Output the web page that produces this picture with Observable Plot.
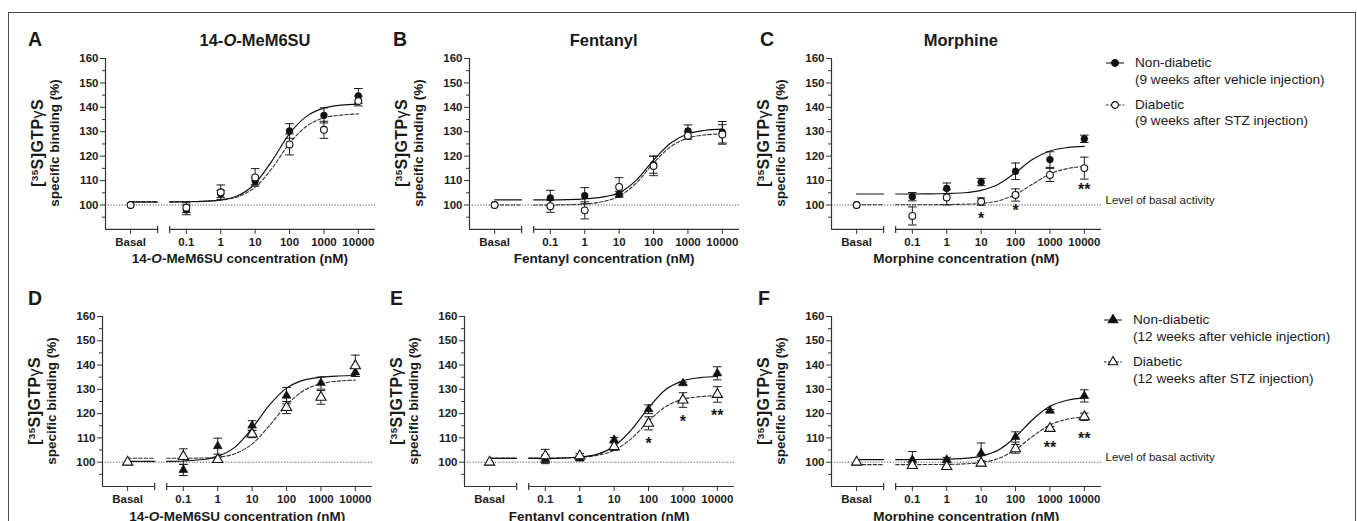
<!DOCTYPE html>
<html><head><meta charset="utf-8">
<script src="https://cdn.jsdelivr.net/npm/d3@7"></script>
<script src="https://cdn.jsdelivr.net/npm/@observablehq/plot@0.6"></script>
<style>
body{margin:0;background:#fff;}
#fig{position:relative;width:1357px;height:521px;overflow:hidden;font-family:'Liberation Sans',Arial,sans-serif;color:#1a1a1a;background:#fff;}
.abs{position:absolute;white-space:nowrap;line-height:1;}
.letter{font-size:19.5px;font-weight:bold;}
.ptitle{font-size:16.5px;font-weight:bold;}
.xtitle{font-size:13.5px;font-weight:bold;}
.ylab1{font-size:16px;font-weight:bold;letter-spacing:0.4px;}
.ylab2{font-size:13.5px;font-weight:bold;}
.ylab1 sup{font-size:0.62em;line-height:0;vertical-align:0.55em;}
.leg{font-size:13.6px;}
#border{position:absolute;left:8px;top:12px;width:1348px;height:560px;border:1.5px solid #4a4a4a;box-sizing:border-box;}
</style></head>
<body>
<div id="fig"><div id="border"></div></div>
<script>
// ---------- shared categories / ticks ----------
const concentrations = ["Basal", 0.1, 1, 10, 100, 1000, 10000];
const tickLabels = ["Basal", "0.1", "1", "10", "100", "1000", "10000"];
const yMajorTicks = [100, 110, 120, 130, 140, 150, 160];
const yMinorTicks = [95, 105, 115, 125, 135, 145, 155];
const basalLevel = 100;
// log10 concentration where fitted curves were read
const curveLog = [-1.485, -1, -0.5, 0, 0.5, 1, 1.5, 2, 2.5, 3, 3.5, 4];

// ---------- Panel A: 14-O-MeM6SU, 9 weeks ----------
const aNonMean = [100, 98.0, 104.5, 109.8, 130.3, 136.7, 144.7];
const aNonErr  = [0, 2.0, 1.5, 1.5, 3.0, 3.1, 3.0];
const aDiaMean = [100, 98.9, 105.2, 111.3, 124.8, 130.8, 142.6];
const aDiaErr  = [0, 2.0, 3.0, 3.6, 4.3, 3.5, 2.0];
const aNonCurve = [101.2, 101.3, 101.5, 102.1, 103.8, 108.8, 118.3, 129.2, 136.4, 139.7, 140.9, 141.3];
const aDiaCurve = [101.4, 101.4, 101.5, 102.0, 103.4, 107.3, 115.2, 125.3, 132.3, 135.7, 136.8, 137.3];
const aStars = [];

// ---------- Panel B: Fentanyl, 9 weeks ----------
const bNonMean = [100, 102.9, 103.8, 104.4, 116.5, 130.3, 129.8];
const bNonErr  = [0, 3.1, 3.3, 1.2, 3.5, 2.5, 4.4];
const bDiaMean = [100, 99.5, 97.8, 107.4, 116.0, 128.4, 128.9];
const bDiaErr  = [0, 2.5, 3.5, 3.8, 4.0, 1.5, 4.0];
const bNonCurve = [102.1, 102.1, 102.2, 102.5, 103.2, 105.0, 110.2, 118.4, 125.4, 129.2, 130.6, 131.1];
const bDiaCurve = [100.0, 100.0, 100.1, 100.4, 101.3, 103.6, 109.0, 117.2, 123.9, 127.4, 128.7, 129.1];
const bStars = [];

// ---------- Panel C: Morphine, 9 weeks ----------
const cNonMean = [100, 103.4, 106.8, 109.4, 113.8, 118.6, 127.1];
const cNonErr  = [0, 1.7, 2.2, 1.5, 3.4, 3.2, 1.5];
const cDiaMean = [100, 95.5, 103.1, 101.4, 104.1, 112.3, 115.1];
const cDiaErr  = [0, 3.7, 3.1, 1.5, 2.5, 2.7, 4.5];
const cNonCurve = [104.5, 104.5, 104.55, 104.7, 105.0, 106.0, 108.5, 113.3, 118.7, 122.1, 123.5, 124.0];
const cDiaCurve = [100.1, 100.1, 100.1, 100.2, 100.3, 100.65, 101.7, 104.3, 108.6, 112.7, 114.9, 115.8];
const cStars = [{conc: 10, y: 95.9, label: "*"}, {conc: 100, y: 98.9, label: "*"}, {conc: 10000, y: 107.8, label: "**"}];

// ---------- Panel D: 14-O-MeM6SU, 12 weeks ----------
const dNonMean = [100, 96.8, 106.6, 115.1, 127.4, 132.6, 137.0];
const dNonErr  = [0, 2.3, 3.3, 2.0, 3.4, 2.5, 1.7];
const dDiaMean = [100, 102.3, 101.1, 111.6, 122.5, 126.7, 139.7];
const dDiaErr  = [0, 3.2, 1.0, 1.5, 2.5, 2.8, 4.4];
const dNonCurve = [100.3, 100.5, 101.0, 102.4, 106.2, 114.0, 123.5, 130.5, 133.8, 135.0, 135.5, 135.7];
const dDiaCurve = [101.6, 101.6, 101.7, 102.1, 103.5, 107.5, 115.0, 123.5, 129.5, 132.3, 133.4, 133.8];
const dStars = [];

// ---------- Panel E: Fentanyl, 12 weeks ----------
const eNonMean = [100, 101.2, 101.6, 109.2, 121.8, 132.5, 136.6];
const eNonErr  = [0, 1.8, 1.0, 1.0, 1.8, 0.5, 2.7];
const eDiaMean = [100, 102.6, 102.6, 106.4, 116.0, 125.6, 127.9];
const eDiaErr  = [0, 2.7, 1.0, 1.5, 2.7, 3.0, 3.2];
const eNonCurve = [101.6, 101.6, 101.7, 102.1, 103.2, 106.6, 113.3, 122.4, 129.9, 133.5, 134.8, 135.3];
const eDiaCurve = [101.7, 101.7, 101.8, 102.1, 102.8, 104.9, 109.7, 116.9, 122.9, 125.9, 127.0, 127.4];
const eStars = [{conc: 100, y: 108.9, label: "*"}, {conc: 1000, y: 118.2, label: "*"}, {conc: 10000, y: 120.5, label: "**"}];

// ---------- Panel F: Morphine, 12 weeks ----------
const fNonMean = [100, 101.0, 101.0, 103.7, 110.4, 121.2, 127.3];
const fNonErr  = [0, 3.4, 1.0, 4.2, 2.1, 0.5, 2.5];
const fDiaMean = [100, 98.6, 98.2, 99.6, 105.5, 113.9, 118.7];
const fDiaErr  = [0, 1.0, 1.0, 1.0, 1.8, 0.8, 1.5];
const fNonCurve = [101.1, 101.1, 101.15, 101.25, 101.55, 102.5, 105.0, 110.4, 117.6, 123.0, 125.5, 126.45];
const fDiaCurve = [99.0, 99.0, 99.05, 99.1, 99.3, 99.9, 101.5, 105.2, 110.7, 115.3, 117.7, 118.6];
const fStars = [{conc: 1000, y: 107.5, label: "**"}, {conc: 10000, y: 111.2, label: "**"}];

// ---------- texts ----------
const drugTitles = ["14-<i>O</i>-MeM6SU", "Fentanyl", "Morphine"];
const xTitles = ["14-<i>O</i>-MeM6SU concentration (nM)", "Fentanyl concentration (nM)", "Morphine concentration (nM)"];
const legendTop = ["Non-diabetic", "(9 weeks after vehicle injection)", "Diabetic", "(9 weeks after STZ injection)"];
const legendBottom = ["Non-diabetic", "(12 weeks after vehicle injection)", "Diabetic", "(12 weeks after STZ injection)"];
const basalText = "Level of basal activity";

// ---------- layout (positions / styles) ----------
const X_DOMAIN = [-3.35, 4.5];
const Y_DOMAIN = [90, 160];
const BASAL_POS = -2.62;
const BREAK = [-1.834, -1.485];
const DECADE = 34.4;
const INK = "#1a1a1a";

const panels = [
  {letter:"A", L0:220.1, top:57.5, h:170.9, letterX:28, letterY:39.5, title:0, titleX:255, sym:"circle", non:[aNonMean,aNonErr,aNonCurve], dia:[aDiaMean,aDiaErr,aDiaCurve], stars:aStars, basal:false},
  {letter:"B", L0:584.4, top:57.5, h:170.9, letterX:393, letterY:39.5, title:1, titleX:603.7, sym:"circle", non:[bNonMean,bNonErr,bNonCurve], dia:[bDiaMean,bDiaErr,bDiaCurve], stars:bStars, basal:false},
  {letter:"C", L0:946.4, top:57.5, h:170.9, letterX:760, letterY:39.5, title:2, titleX:960.8, sym:"circle", non:[cNonMean,cNonErr,cNonCurve], dia:[cDiaMean,cDiaErr,cDiaCurve], stars:cStars, basal:true},
  {letter:"D", L0:217.4, top:315.5, h:170, letterX:28, letterY:298.5, title:0, titleX:null, sym:"triangle", non:[dNonMean,dNonErr,dNonCurve], dia:[dDiaMean,dDiaErr,dDiaCurve], stars:dStars, basal:false},
  {letter:"E", L0:579.4, top:315.5, h:170, letterX:390, letterY:298.5, title:1, titleX:null, sym:"triangle", non:[eNonMean,eNonErr,eNonCurve], dia:[eDiaMean,eDiaErr,eDiaCurve], stars:eStars, basal:false},
  {letter:"F", L0:946.4, top:315.5, h:170, letterX:758, letterY:298.5, title:2, titleX:null, sym:"triangle", non:[fNonMean,fNonErr,fNonCurve], dia:[fDiaMean,fDiaErr,fDiaCurve], stars:fStars, basal:true},
];

const fig = document.getElementById("fig");
function addText(html, x, y, cls, mode) {
  const el = document.createElement("div");
  el.className = "abs " + cls;
  el.innerHTML = html;
  el.style.left = x + "px";
  el.style.top = y + "px";
  el.style.transform = mode === "left" ? "translate(0,-50%)" :
                       mode === "rot" ? "translate(-50%,-50%) rotate(-90deg)" : "translate(-50%,-50%)";
  fig.appendChild(el);
  return el;
}

// custom symbols: horizontal cap and vertical tick
const capH = {draw(ctx, size) { const r = Math.sqrt(size / Math.PI); ctx.moveTo(-r, 0); ctx.lineTo(r, 0); }};
const capV = {draw(ctx, size) { const r = Math.sqrt(size / Math.PI); ctx.moveTo(0, -r); ctx.lineTo(0, r); }};

const logOf = c => c === "Basal" ? BASAL_POS : Math.round(Math.log10(c) * 1000) / 1000;
const xs = concentrations.map(logOf);

function makePanel(p) {
  const mL = 30, mT = 8, mB = 30, mR = p.basal ? 140 : 10;
  const fw = DECADE * (X_DOMAIN[1] - X_DOMAIN[0]);
  const frameLeft = p.L0 + DECADE * X_DOMAIN[0];
  const pts = (s) => xs.map((x, i) => ({x, mean: s[0][i], err: s[1][i], lo: s[0][i] - s[1][i], hi: s[0][i] + s[1][i]}));
  const nonPts = pts(p.non), diaPts = pts(p.dia);
  const errPts = nonPts.concat(diaPts).filter(d => d.err > 0);
  const curve = (vals) => [
    {x: BASAL_POS, y: vals[0], seg: 0}, {x: BREAK[0], y: vals[0], seg: 0},
    ...curveLog.map((x, i) => ({x, y: vals[i], seg: 1}))
  ];
  const xSegs = [{x1: X_DOMAIN[0], x2: BREAK[0], y: Y_DOMAIN[0]}, {x1: BREAK[1], x2: X_DOMAIN[1], y: Y_DOMAIN[0]}];
  const breakTicks = BREAK.map(x => ({x, y: Y_DOMAIN[0]}));
  const yLine = [{x: X_DOMAIN[0], y1: Y_DOMAIN[0], y2: Y_DOMAIN[1]}];
  const rFill = p.sym === "circle" ? 3.4 : 3.3;
  const rOpen = p.sym === "circle" ? 3.4 : 3.8;

  const marks = [
    Plot.ruleY([basalLevel], {stroke: "#555", strokeWidth: 1, strokeDasharray: "1.2,1.6"}),
    Plot.line(curve(p.dia[2]), {x: "x", y: "y", z: "seg", curve: "monotone-x", stroke: "#333", strokeWidth: 1.1, strokeDasharray: "3.5,2"}),
    Plot.line(curve(p.non[2]), {x: "x", y: "y", z: "seg", curve: "monotone-x", stroke: "#111", strokeWidth: 1.2}),
    Plot.ruleX(errPts, {x: "x", y1: "lo", y2: "hi", stroke: INK, strokeWidth: 1}),
    Plot.dot(errPts, {x: "x", y: "hi", symbol: capH, r: 4.3, stroke: INK, fill: "none", strokeWidth: 1}),
    Plot.dot(errPts, {x: "x", y: "lo", symbol: capH, r: 4.3, stroke: INK, fill: "none", strokeWidth: 1}),
    Plot.dot(nonPts, {x: "x", y: "mean", symbol: p.sym, r: rFill, fill: "#111", stroke: "#111", strokeWidth: 0.6}),
    Plot.dot(diaPts, {x: "x", y: "mean", symbol: p.sym, r: rOpen, fill: "white", stroke: "#111", strokeWidth: 1.1}),
    Plot.text(p.stars, {x: d => logOf(d.conc), y: "y", text: "label", fontSize: 16, fontWeight: "bold", fill: INK, dy: 3.5}),
    Plot.ruleX(yLine, {x: "x", y1: "y1", y2: "y2", stroke: "#333", strokeWidth: 1.2}),
    Plot.ruleY(xSegs, {x1: "x1", x2: "x2", y: "y", stroke: "#333", strokeWidth: 1.2}),
    Plot.dot(breakTicks, {x: "x", y: "y", symbol: capV, r: 3.5, stroke: "#333", fill: "none", strokeWidth: 1.2}),
    Plot.axisY({ticks: yMajorTicks, tickSize: 5, tickPadding: 2, fontSize: 11.5, fontWeight: "bold", label: null, stroke: "#333"}),
    Plot.axisY({ticks: yMinorTicks, tickSize: 3, tickFormat: () => "", label: null, stroke: "#333"}),
    Plot.axisX({ticks: xs, tickFormat: d => tickLabels[xs.indexOf(d)], tickSize: 5, tickPadding: 3, fontSize: 11.5, fontWeight: "bold", label: null, stroke: "#333"})
  ];
  if (p.basal) {
    marks.push(Plot.text([{label: basalText, level: basalLevel}], {frameAnchor: "right", y: "level", text: "label", textAnchor: "start", dx: 4, dy: -5, fontSize: 11.5, fontWeight: "normal", fill: "#222"}));
  }
  const chart = Plot.plot({
    width: mL + fw + mR, height: mT + p.h + mB,
    marginLeft: mL, marginRight: mR, marginTop: mT, marginBottom: mB,
    x: {type: "linear", domain: X_DOMAIN},
    y: {type: "linear", domain: Y_DOMAIN},
    style: {fontFamily: "'Liberation Sans', Arial, sans-serif", fontSize: "11.5px", fontWeight: "bold", color: "#222", background: "transparent", overflow: "visible", maxWidth: "none"},
    marks
  });
  chart.style.position = "absolute";
  chart.style.left = (frameLeft - mL) + "px";
  chart.style.top = (p.top - mT) + "px";
  fig.appendChild(chart);

  // texts around the plot
  const axisX = frameLeft;
  const yc = p.top + p.h / 2;
  addText(p.letter, p.letterX, p.letterY, "letter", "left");
  if (p.titleX !== null) addText(drugTitles[p.title], p.titleX, 39.5, "ptitle", "center");
  addText(xTitles[p.title], axisX + fw / 2, p.top + p.h + 31, "xtitle", "center");
  addText('[<sup>35</sup>S]GTP<span style="font-weight:normal">&gamma;</span>S', axisX - 67, yc, "ylab1", "rot");
  addText('specific binding (%)', axisX - 50, yc, "ylab2", "rot");
}
panels.forEach(makePanel);

// ---------- legends ----------
function legendSymbol(x, y, sym, filled, dashed) {
  const size = Math.PI * (sym === "circle" ? 3.4 : 3.5) ** 2;
  const path = d3.symbol(sym === "circle" ? d3.symbolCircle : d3.symbolTriangle, size)();
  const el = document.createElement("div");
  el.className = "abs";
  el.style.left = (x - 11) + "px"; el.style.top = (y - 7) + "px";
  el.innerHTML = `<svg width="22" height="14" style="display:block;overflow:visible">
    <line x1="2" x2="20" y1="7" y2="7" stroke="#222" stroke-width="1.1" ${dashed ? 'stroke-dasharray="2.5,1.6"' : ''}/>
    <path d="${path}" transform="translate(11,7)" fill="${filled ? '#111' : 'white'}" stroke="#111" stroke-width="1.1"/></svg>`;
  fig.appendChild(el);
}
const legends = [
  {texts: legendTop, sym: "circle", symX: 1115, textX: 1135, ys: [63, 80, 105, 121]},
  {texts: legendBottom, sym: "triangle", symX: 1113, textX: 1133, ys: [320, 337, 362, 379]}
];
legends.forEach(L => {
  legendSymbol(L.symX, L.ys[0], L.sym, true, false);
  legendSymbol(L.symX, L.ys[2], L.sym, false, true);
  L.texts.forEach((t, i) => addText(t, L.textX, L.ys[i], "leg", "left"));
});
</script>
</body></html>
